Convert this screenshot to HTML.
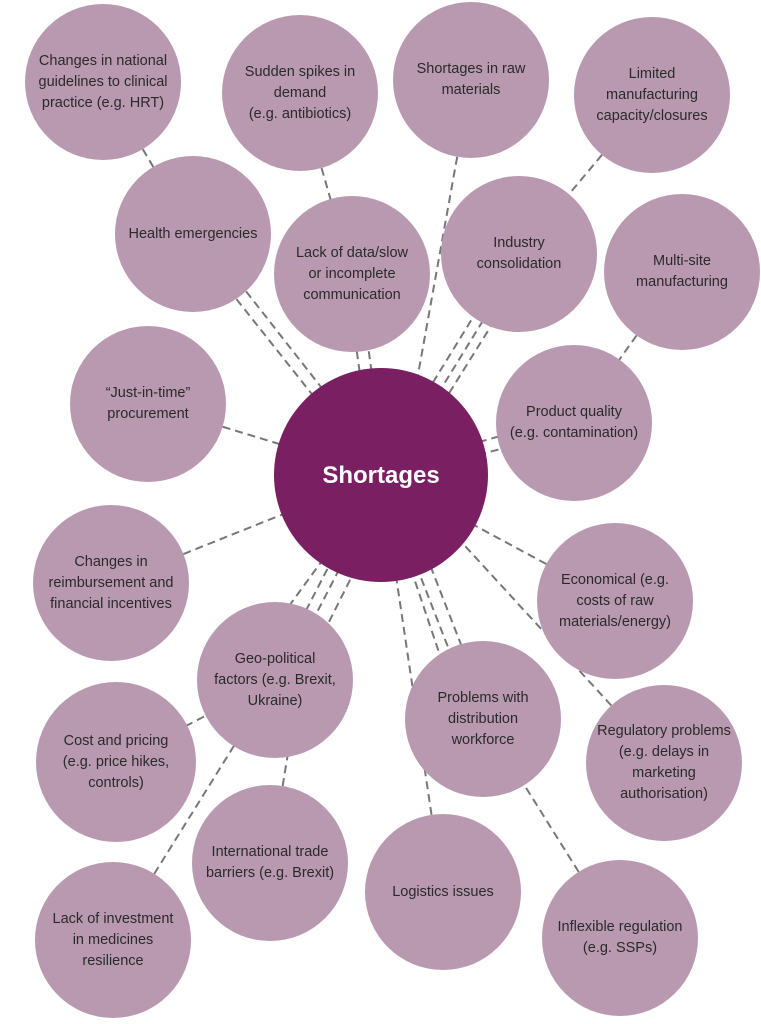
<!DOCTYPE html>
<html><head><meta charset="utf-8"><style>
html,body{margin:0;padding:0;background:#fff;width:761px;height:1024px;overflow:hidden}
.c{position:absolute;border-radius:50%;background:#b899b0;display:flex;align-items:center;justify-content:center;text-align:center;font-family:"Liberation Sans",sans-serif;font-size:14.5px;line-height:21px;color:#2a2a2a;box-sizing:border-box;padding:0 6px;white-space:nowrap}
svg{position:absolute;left:0;top:0}
</style></head><body>
<svg width="761" height="1024"><g stroke="#777" stroke-width="2" stroke-dasharray="8,5" fill="none">
<line x1="103" y1="82" x2="193" y2="234"/>
<line x1="188" y1="238" x2="376" y2="475"/><line x1="198" y1="230" x2="386" y2="470"/>
<line x1="300" y1="93" x2="352" y2="274"/>
<line x1="346" y1="274" x2="374" y2="475"/><line x1="358" y1="274" x2="386" y2="475"/>
<line x1="471" y1="80" x2="400" y2="475"/>
<line x1="652" y1="95" x2="519" y2="254"/>
<line x1="512" y1="254" x2="376" y2="475"/><line x1="524" y1="254" x2="388" y2="475"/><line x1="536" y1="254" x2="398" y2="475"/>
<line x1="682" y1="272" x2="574" y2="423"/>
<line x1="574" y1="415" x2="381" y2="470"/><line x1="574" y1="430" x2="381" y2="480"/>
<line x1="148" y1="404" x2="381" y2="475"/>
<line x1="111" y1="583" x2="381" y2="475"/>
<line x1="615" y1="601" x2="381" y2="475"/>
<line x1="270" y1="680" x2="376" y2="475"/><line x1="282" y1="680" x2="388" y2="475"/><line x1="235" y1="680" x2="381" y2="480"/><line x1="300" y1="680" x2="400" y2="480"/>
<line x1="116" y1="762" x2="275" y2="680"/>
<line x1="113" y1="940" x2="275" y2="680"/>
<line x1="270" y1="863" x2="300" y2="680"/>
<line x1="476" y1="719" x2="381" y2="475"/><line x1="490" y1="719" x2="395" y2="475"/><line x1="455" y1="700" x2="381" y2="480"/>
<line x1="443" y1="892" x2="381" y2="475"/>
<line x1="620" y1="938" x2="483" y2="719"/>
<line x1="664" y1="763" x2="400" y2="475"/>
</g></svg>
<div class="c" style="left:25px;top:4px;width:156px;height:156px">Changes in national<br>guidelines to clinical<br>practice (e.g. HRT)</div>
<div class="c" style="left:222px;top:15px;width:156px;height:156px">Sudden spikes in<br>demand<br>(e.g. antibiotics)</div>
<div class="c" style="left:393px;top:2px;width:156px;height:156px">Shortages in raw<br>materials</div>
<div class="c" style="left:574px;top:17px;width:156px;height:156px">Limited<br>manufacturing<br>capacity/closures</div>
<div class="c" style="left:115px;top:156px;width:156px;height:156px">Health emergencies</div>
<div class="c" style="left:274px;top:196px;width:156px;height:156px">Lack of data/slow<br>or incomplete<br>communication</div>
<div class="c" style="left:441px;top:176px;width:156px;height:156px">Industry<br>consolidation</div>
<div class="c" style="left:604px;top:194px;width:156px;height:156px">Multi-site<br>manufacturing</div>
<div class="c" style="left:70px;top:326px;width:156px;height:156px">“Just-in-time”<br>procurement</div>
<div class="c" style="left:274px;top:368px;width:214px;height:214px;background:#7a1f62;color:#fff;font-weight:bold;font-size:24px">Shortages</div>
<div class="c" style="left:496px;top:345px;width:156px;height:156px">Product quality<br>(e.g. contamination)</div>
<div class="c" style="left:33px;top:505px;width:156px;height:156px">Changes in<br>reimbursement and<br>financial incentives</div>
<div class="c" style="left:537px;top:523px;width:156px;height:156px">Economical (e.g.<br>costs of raw<br>materials/energy)</div>
<div class="c" style="left:197px;top:602px;width:156px;height:156px">Geo-political<br>factors (e.g. Brexit,<br>Ukraine)</div>
<div class="c" style="left:405px;top:641px;width:156px;height:156px">Problems with<br>distribution<br>workforce</div>
<div class="c" style="left:36px;top:682px;width:160px;height:160px">Cost and pricing<br>(e.g. price hikes,<br>controls)</div>
<div class="c" style="left:586px;top:685px;width:156px;height:156px">Regulatory problems<br>(e.g. delays in<br>marketing<br>authorisation)</div>
<div class="c" style="left:192px;top:785px;width:156px;height:156px">International trade<br>barriers (e.g. Brexit)</div>
<div class="c" style="left:365px;top:814px;width:156px;height:156px">Logistics issues</div>
<div class="c" style="left:542px;top:860px;width:156px;height:156px">Inflexible regulation<br>(e.g. SSPs)</div>
<div class="c" style="left:35px;top:862px;width:156px;height:156px">Lack of investment<br>in medicines<br>resilience</div>
</body></html>
